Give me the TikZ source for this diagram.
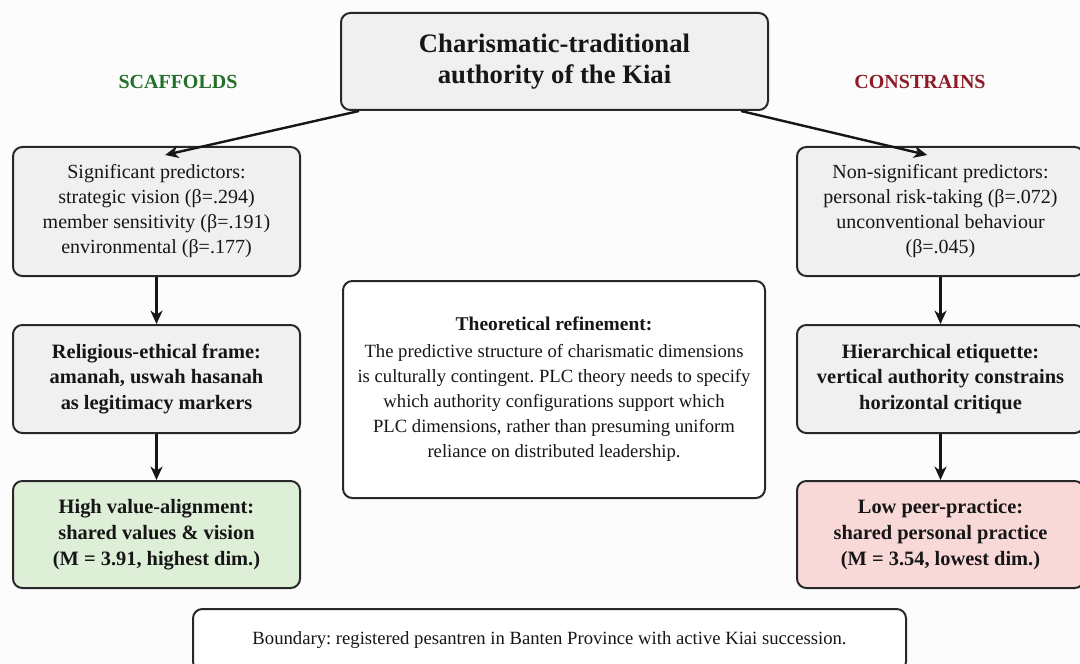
\documentclass[tikz,border=0pt]{standalone}
\usepackage{fontspec}
\setmainfont{Liberation Serif}
\usetikzlibrary{arrows.meta}
\definecolor{boxgray}{RGB}{240,240,240}
\definecolor{valgreen}{RGB}{222,239,216}
\definecolor{lowpink}{RGB}{249,216,216}
\definecolor{scafgreen}{RGB}{36,112,42}
\definecolor{conred}{RGB}{140,28,38}
\definecolor{edgegray}{RGB}{40,40,40}
\definecolor{inkgray}{RGB}{22,22,22}
\frenchspacing

\begin{document}
\begin{tikzpicture}[x=0.75pt,y=0.75pt,yscale=-1,xscale=1,
	box/.style={draw=edgegray, line width=1.5pt, rounded corners=7pt, fill=boxgray, align=center, inner sep=0pt, text=inkgray},
	colbox/.style={box, minimum width=215.25pt},
	plain/.style={font=\fontsize{15}{18.75}\selectfont},
	heavy/.style={font=\fontsize{15.3}{19.4}\selectfont\bfseries},
	flow/.style={draw=inkgray, line width=1.8pt, -{Stealth[length=10pt,width=9pt,inset=3pt]}}]
	%uncomment if require: \path (0,663); %set diagram left start at 0, and has height of 663
	\useasboundingbox (0,0) rectangle (1080,663);
	\fill[black!1] (0,0) rectangle (1080,663);

	%Shape: Top box
	\node [box, minimum width=320.25pt, minimum height=72.75pt, font=\fontsize{20}{23.3}\selectfont\bfseries] (kiai) at (554.5,61.5) {Charismatic-traditional\\authority of the Kiai};

	% Text Node
	\node [font=\fontsize{15}{18}\selectfont\bfseries, text=scafgreen] (scaf) at (178,82) {SCAFFOLDS};
	% Text Node
	\node [font=\fontsize{15}{18}\selectfont\bfseries, text=conred] (cons) at (920,82) {CONSTRAINS};

	%Shape: Left column
	\node [colbox, plain, minimum height=96.75pt] (sig) at (156.5,211.5) {Significant predictors:\\strategic vision (β=.294)\\member sensitivity (β=.191)\\environmental (β=.177)};
	\node [colbox, heavy, minimum height=81pt] (frame) at (156.5,379) {Religious-ethical frame:\\amanah, uswah hasanah\\as legitimacy markers};
	\node [colbox, heavy, minimum height=80.25pt, fill=valgreen] (high) at (156.5,534.5) {High value-alignment:\\shared values \& vision\\(M = 3.91, highest dim.)};

	%Shape: Right column
	\node [colbox, plain, minimum height=96.75pt] (nonsig) at (940.5,211.5) {Non-significant predictors:\\personal risk-taking (β=.072)\\unconventional behaviour\\(β=.045)};
	\node [colbox, heavy, minimum height=81pt] (etiq) at (940.5,379) {Hierarchical etiquette:\\vertical authority constrains\\horizontal critique};
	\node [colbox, heavy, minimum height=80.25pt, fill=lowpink] (low) at (940.5,534.5) {Low peer-practice:\\shared personal practice\\(M = 3.54, lowest dim.)};

	%Shape: Theory box
	\node [box, fill=white, minimum width=316.5pt, minimum height=162.75pt, font=\fontsize{14}{18.75}\selectfont] (refine) at (554,389.5) {{\fontsize{14.6}{18.75}\selectfont\bfseries Theoretical refinement:}\\[1.5pt]The predictive structure of charismatic dimensions\\is culturally contingent. PLC theory needs to specify\\which authority configurations support which\\PLC dimensions, rather than presuming uniform\\reliance on distributed leadership.};

	%Shape: Boundary box
	\node [box, fill=white, minimum width=534.75pt, minimum height=46.5pt, font=\fontsize{14}{18}\selectfont] (bound) at (549.5,640) {Boundary: registered pesantren in Banten Province with active Kiai succession.};

	%Straight Lines
	\draw [flow] ([xshift=14.25pt]kiai.south west) -- ([xshift=6.4pt,yshift=6.75pt]sig.north);
	\draw [flow] ([xshift=-21pt]kiai.south east) -- ([xshift=-10pt,yshift=6.75pt]nonsig.north);
	\draw [flow] (sig) -- (frame);
	\draw [flow] (frame) -- (high);
	\draw [flow] (nonsig) -- (etiq);
	\draw [flow] (etiq) -- (low);

\end{tikzpicture}
\end{document}
